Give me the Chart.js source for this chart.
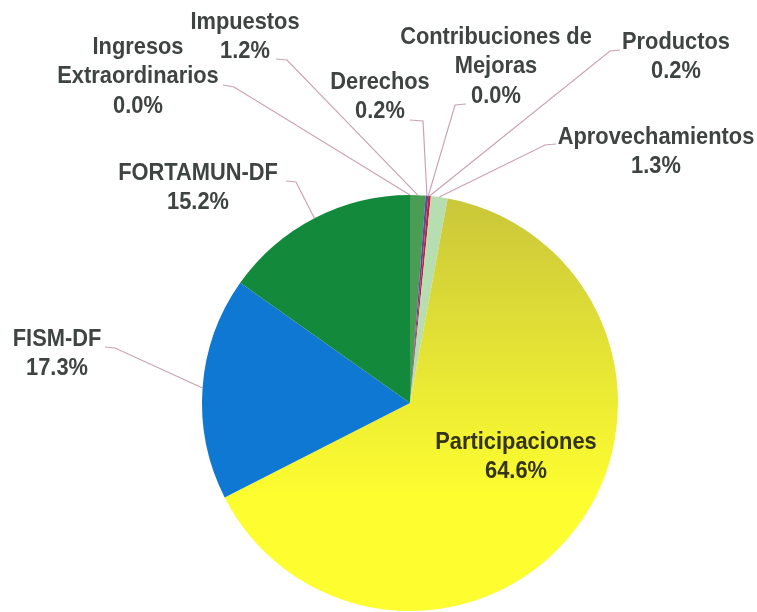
<!DOCTYPE html>
<html>
<head>
<meta charset="utf-8">
<script src="https://cdn.jsdelivr.net/npm/chart.js@4.4.1/dist/chart.umd.min.js"></script>
<style>
  html, body { margin: 0; padding: 0; background: #fff; }
  #wrap { width: 757px; height: 612px; position: relative; }
</style>
</head>
<body>
<div id="wrap"><canvas id="pie"></canvas></div>
<script>
// data (percent of total income)
const categories = ['Impuestos', 'Derechos', 'Contribuciones de Mejoras', 'Productos', 'Aprovechamientos',
  'Participaciones', 'FISM-DF', 'FORTAMUN-DF', 'Ingresos Extraordinarios'];
const values = [1.2, 0.2, 0.0, 0.2, 1.3, 64.6, 17.3, 15.2, 0.0];
// how each label is broken into lines
const labelLines = [
  ['Impuestos'],
  ['Derechos'],
  ['Contribuciones de', 'Mejoras'],
  ['Productos'],
  ['Aprovechamientos'],
  ['Participaciones'],
  ['FISM-DF'],
  ['FORTAMUN-DF'],
  ['Ingresos', 'Extraordinarios']
];

const colors = ['#4a9d52', '#5b4b9e', '#8a6bb0', '#c4203c', '#b7deb0', 'yellow', '#0e78d3', '#13893c', '#2f7a3a'];

// where the labels sit and where the leader line leaves them
const labelPos = [
  { x: 245, y: 22, line: [[276, 59], [287, 60]] },
  { x: 380, y: 82, line: [[410, 120], [423, 121]] },
  { x: 496, y: 37, line: [[466, 104], [455, 105]] },
  { x: 676, y: 42, line: [[620, 50], [610, 51]] },
  { x: 656, y: 137, line: [[556, 144], [545, 145]] },
  { x: 516, y: 442, line: null },
  { x: 57, y: 339, line: [[105, 347], [115, 348]] },
  { x: 198, y: 173, line: [[286, 181], [296, 182]] },
  { x: 138, y: 47, line: [[223, 85], [234, 87]] }
];

// narrow bold look: Liberation Sans bold squeezed a bit
const labelFont = "bold 24px 'Liberation Sans', Arial, sans-serif";
const squeeze = 0.91;

const pieLabels = {
  id: 'pieLabels',
  afterDatasetsDraw(chart) {
    const ctx = chart.ctx;
    const arcs = chart.getDatasetMeta(0).data;
    ctx.save();
    ctx.font = labelFont;
    ctx.textAlign = 'center';
    ctx.textBaseline = 'middle';
    labelPos.forEach((p, i) => {
      const arc = arcs[i];
      if (p.line) {
        const mid = (arc.startAngle + arc.endAngle) / 2;
        const ax = arc.x + Math.cos(mid) * arc.outerRadius;
        const ay = arc.y + Math.sin(mid) * arc.outerRadius;
        ctx.strokeStyle = '#c9a2b6';
        ctx.lineWidth = 1.2;
        ctx.beginPath();
        ctx.moveTo(p.line[0][0], p.line[0][1]);
        ctx.lineTo(p.line[1][0], p.line[1][1]);
        ctx.lineTo(ax, ay);
        ctx.stroke();
      }
      ctx.fillStyle = i === 5 ? '#34341a' : '#3d4442';
      const lines = labelLines[i].concat([values[i].toFixed(1) + '%']);
      lines.forEach((t, k) => {
        ctx.save();
        ctx.translate(p.x, p.y + k * 29.5);
        ctx.scale(squeeze, 1);
        ctx.fillText(t, 0, 0);
        ctx.restore();
      });
    });
    ctx.restore();
  }
};

new Chart(document.getElementById('pie'), {
  type: 'pie',
  data: {
    labels: categories,
    datasets: [{
      data: values,
      backgroundColor: (c) => {
        if (colors[c.dataIndex] !== 'yellow') return colors[c.dataIndex];
        const area = c.chart.chartArea;
        if (!area) return '#f5f22e';
        const g = c.chart.ctx.createLinearGradient(0, area.top, 0, area.top + 300);
        g.addColorStop(0, '#c9c63a');
        g.addColorStop(1, '#fdfd30');
        return g;
      },
      borderWidth: 0
    }]
  },
  options: {
    responsive: true,
    maintainAspectRatio: false,
    animation: false,
    layout: { padding: { top: 195, bottom: 1, left: 200, right: 137 } },
    plugins: {
      legend: { display: false },
      tooltip: { enabled: false }
    }
  },
  plugins: [pieLabels]
});
</script>
</body>
</html>
